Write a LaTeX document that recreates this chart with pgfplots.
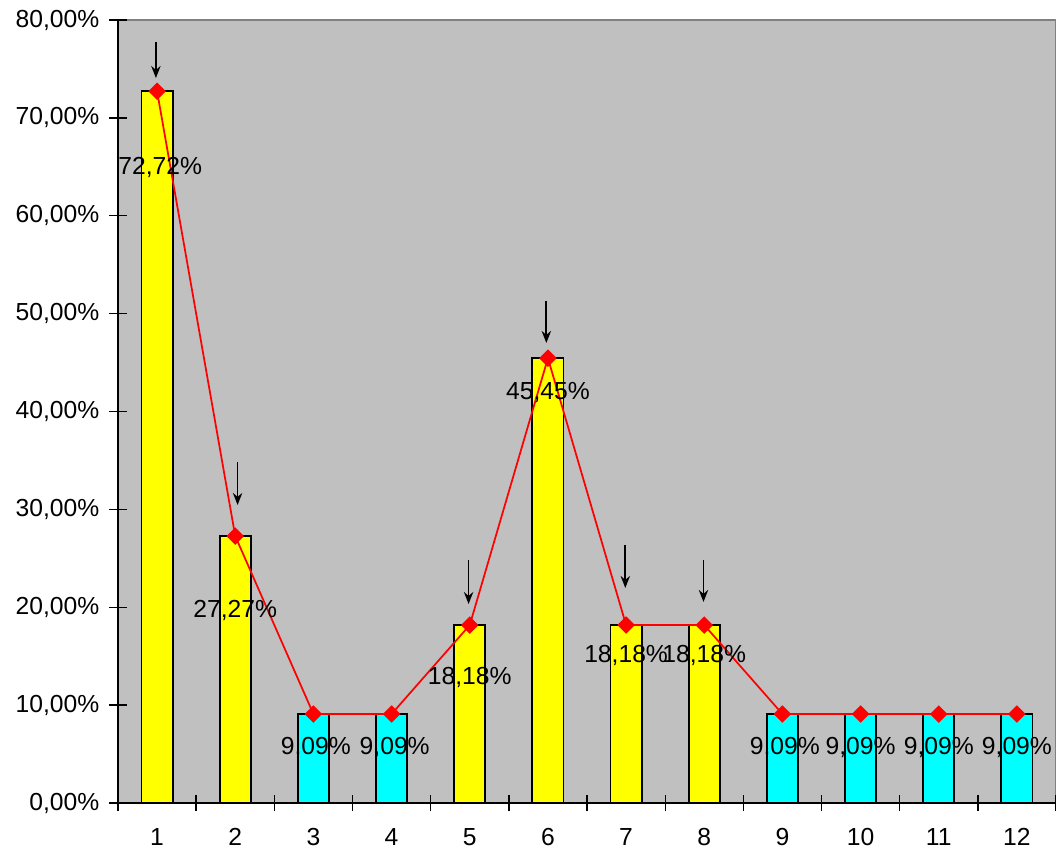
\documentclass[border=0pt]{standalone}
\usepackage{pgfplots}
\pgfplotsset{compat=1.18}
\usepackage{fontspec}
\setmainfont{Liberation Sans}
\usetikzlibrary{arrows.meta}
\definecolor{bgsilver}{HTML}{C0C0C0}
\definecolor{bordergray}{HTML}{808080}
\definecolor{baryellow}{HTML}{FFFF00}
\definecolor{barcyan}{HTML}{00FFFF}
\definecolor{linered}{HTML}{FF0000}
\begin{document}
\begin{tikzpicture}[font=\fontsize{18.5}{22}\selectfont]
\begin{axis}[name=ax, scale only axis, width=703.5pt, height=587.25pt,
  xmin=0.5, xmax=12.5, ymin=0, ymax=80, clip=false,
  axis lines=left, axis line style={-, line width=1pt, black},
  axis background/.style={fill=bgsilver, draw=bordergray, line width=1pt},
  xtick={1,...,12}, minor xtick={0.5,1.5,...,12.5}, ytick={0,10,...,80},
  tick align=center, major tick length=13pt, minor tick length=12pt,
  tick style={black, line width=1pt},
  major x tick style={draw=none},
  /pgf/number format/assume math mode=true,
  yticklabel={\pgfmathprintnumber[fixed,fixed zerofill,precision=2,use comma]{\tick}\%},
  ticklabel style={font=\fontsize{18.5}{22}\selectfont},
  xticklabel style={yshift=-9pt},
  yticklabel style={xshift=-4pt},
]
\addplot[ybar, bar width=0.4, bar shift=0pt, fill=baryellow, draw=black, line width=1.4pt]
  coordinates {(1,72.72) (2,27.27) (5,18.18) (6,45.45) (7,18.18) (8,18.18)};
\addplot[ybar, bar width=0.4, bar shift=0pt, fill=barcyan, draw=black, line width=1.4pt]
  coordinates {(3,9.09) (4,9.09) (9,9.09) (10,9.09) (11,9.09) (12,9.09)};
\addplot[linered, line width=1.3pt, mark=square*, mark size=4pt,
  mark options={rotate=45, fill=linered, draw=linered}]
  coordinates {(1,72.72) (2,27.27) (3,9.09) (4,9.09) (5,18.18) (6,45.45)
               (7,18.18) (8,18.18) (9,9.09) (10,9.09) (11,9.09) (12,9.09)};
% data labels
\addplot[draw=none, mark=none, point meta=explicit,
  nodes near coords={\pgfmathprintnumber[fixed,fixed zerofill,precision=2,use comma]{\pgfplotspointmeta}\%},
  every node near coord/.style={anchor=center, black, inner sep=0pt,
    font=\fontsize{18.5}{22}\selectfont, /pgf/number format/assume math mode=true}]
  table[meta=v] {
x y v
1.04 64.98 72.72
2.00 19.72 27.27
3.03 5.72 9.09
4.04 5.72 9.09
5.00 12.87 18.18
6.00 41.90 45.45
7.00 15.12 18.18
8.00 15.12 18.18
9.03 5.72 9.09
10.00 5.72 9.09
11.00 5.72 9.09
12.00 5.72 9.09
};
% arrows
\addplot[black, line width=1.3pt, -{Stealth[length=9pt,width=7pt]},
  quiver={u=\thisrow{u}, v=\thisrow{v}}]
  table {
x y u v
0.985 77.75 0 -3.68
2.03 34.84 0 -4.39
4.985 24.83 0 -4.50
5.98 51.29 0 -4.29
6.99 26.36 0 -4.39
7.99 24.83 0 -4.29
};
\end{axis}
\pgfresetboundingbox
\path[use as bounding box] ([xshift=-88.5pt,yshift=-36.75pt]ax.south west) rectangle ([yshift=15pt]ax.north east);
\end{tikzpicture}
\end{document}
